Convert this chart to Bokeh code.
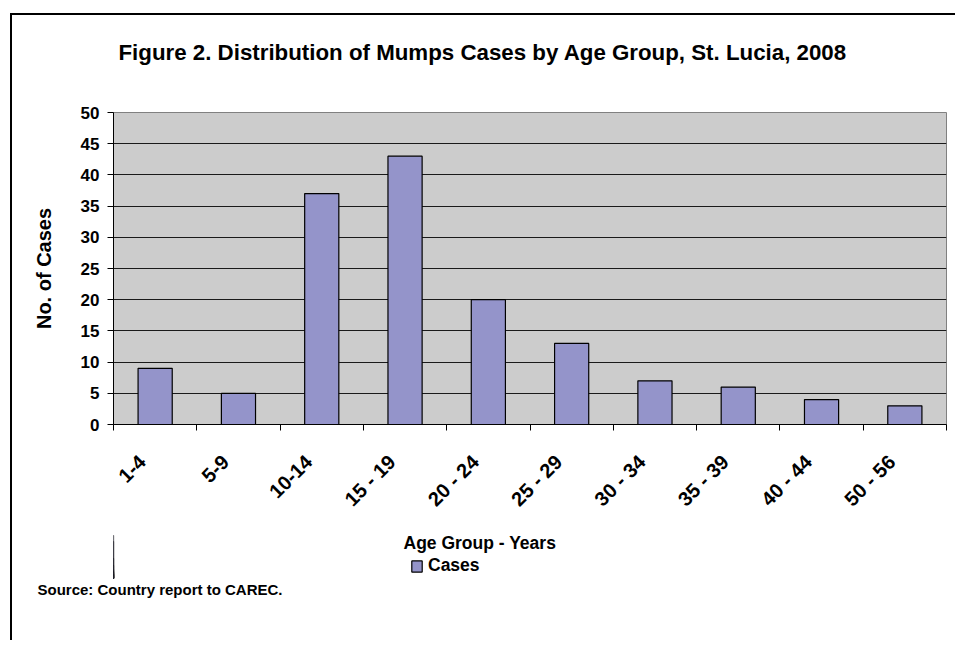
import math
from bokeh.plotting import figure
from bokeh.layouts import column
from bokeh.models import (Range1d, LinearAxis, FixedTicker, Label, Title,
                          Legend, LegendItem, ColumnDataSource)
from bokeh.embed import file_html
from bokeh.resources import INLINE

# ---- data ----
age_groups = ["1-4", "5-9", "10-14", "15 - 19", "20 - 24", "25 - 29",
              "30 - 34", "35 - 39", "40 - 44", "50 - 56"]
cases = [9, 5, 37, 43, 20, 13, 7, 6, 4, 3]
y_ticks = [0, 5, 10, 15, 20, 25, 30, 35, 40, 45, 50]

title_text = "Figure 2. Distribution of Mumps Cases by Age Group, St. Lucia, 2008"
x_label = "Age Group - Years"
y_label = "No. of Cases"
series_name = "Cases"
source_text = "Source: Country report to CAREC."

FONT = "Liberation Sans"
BAR = "#9494CA"
BG = "#CCCCCC"

n = len(age_groups)
centers = [i + 0.5 for i in range(n)]
bounds = list(range(n + 1))
label_shift = 0.15625  # rotated labels end slightly left of the bar centre
label_pos = [c - label_shift for c in centers]

src = ColumnDataSource(data=dict(x=centers, age=age_groups, cases=cases))

# ---------- top strip: chart title (frame aligned with main plot: 113..946) ----------
top = figure(width=945, height=91, x_range=Range1d(113, 946), y_range=Range1d(0, 91),
             output_backend="svg", toolbar_location=None,
             x_axis_location=None, y_axis_location=None, min_border=0,
             border_fill_alpha=0, background_fill_alpha=0, outline_line_color=None)
top.grid.visible = False
top.styles = {"box-shadow": "inset 2px 2px 0 0 black"}
top.add_layout(Label(x=118, y=52, text=title_text, text_align="left",
                     text_baseline="middle", text_font=FONT, text_font_style="bold",
                     text_font_size="22.3px", text_color="black"))

# ---------- main chart ----------
p = figure(frame_width=833, frame_height=312,
           x_range=Range1d(0, n), y_range=Range1d(0, 50),
           output_backend="svg", toolbar_location=None,
           x_axis_location=None, y_axis_location="left",
           min_border_left=103, min_border_right=9,
           min_border_top=8, min_border_bottom=104,
           background_fill_color=BG, border_fill_alpha=0)
p.outline_line_color = "#808080"
p.outline_line_width = 1
p.styles = {"box-shadow": "inset 2px 0 0 0 black"}

tick_axis = LinearAxis(ticker=FixedTicker(ticks=bounds),
                       major_tick_out=6, major_tick_in=0,
                       minor_tick_out=0, minor_tick_in=0,
                       major_label_text_alpha=0, major_label_text_font_size="1px",
                       major_label_standoff=0,
                       axis_line_color="black", major_tick_line_color="black")
p.add_layout(tick_axis, "below")

cat_axis = LinearAxis(ticker=FixedTicker(ticks=label_pos),
                      major_label_overrides={c: a for c, a in zip(label_pos, age_groups)},
                      major_tick_out=0, major_tick_in=0, minor_tick_out=0, minor_tick_in=0,
                      axis_line_color=None, major_tick_line_color=None,
                      major_label_orientation=math.pi / 4,
                      major_label_standoff=28,
                      major_label_text_font=FONT,
                      major_label_text_font_style="bold",
                      major_label_text_font_size="20px",
                      major_label_text_color="black")
p.add_layout(cat_axis, "below")

ya = p.yaxis[0]
ya.ticker = FixedTicker(ticks=y_ticks)
ya.major_tick_out = 6
ya.major_tick_in = 0
ya.minor_tick_out = 0
ya.minor_tick_in = 0
ya.axis_line_color = "black"
ya.major_tick_line_color = "black"
ya.major_label_standoff = 8
ya.major_label_text_font = FONT
ya.major_label_text_font_style = "bold"
ya.major_label_text_font_size = "17px"
ya.major_label_text_color = "black"
ya.axis_label = y_label
ya.axis_label_text_font = FONT
ya.axis_label_text_font_style = "bold"
ya.axis_label_text_font_size = "20px"
ya.axis_label_text_color = "black"
ya.axis_label_standoff = 23

p.xgrid.visible = False
p.ygrid.ticker = FixedTicker(ticks=y_ticks[1:-1])
p.ygrid.grid_line_color = "#1a1a1a"
p.ygrid.grid_line_width = 1

p.vbar(x="x", top="cases", width=0.41, source=src,
       fill_color=BAR, line_color="black", line_width=1.2)

# ---------- bottom strip: axis title, legend, source ----------
bot = figure(width=945, frame_height=50,
             x_range=Range1d(1113, 1946), y_range=Range1d(0, 50),
             output_backend="svg", toolbar_location=None,
             x_axis_location=None, y_axis_location=None,
             min_border_left=0, min_border_right=0, min_border_top=0, min_border_bottom=62,
             border_fill_alpha=0, background_fill_alpha=0, outline_line_color=None)
bot.grid.visible = False
bot.styles = {"box-shadow": "inset 2px 0 0 0 black"}
# legend key uses the same series styling (bars themselves lie outside this strip's view)
r_key = bot.vbar(x="x", top="cases", width=0.41, source=src,
                 fill_color=BAR, line_color="black", line_width=1.2)

bot.add_layout(Label(x=1403, y=36, text=x_label, text_align="left",
                     text_baseline="middle", text_font=FONT, text_font_style="bold",
                     text_font_size="17.5px", text_color="black"))

legend = Legend(items=[LegendItem(label=series_name, renderers=[r_key])],
                orientation="horizontal", location=(297, 2),
                border_line_color=None, background_fill_alpha=0,
                label_text_font=FONT, label_text_font_style="bold",
                label_text_font_size="17.5px", label_text_color="black",
                glyph_width=13, glyph_height=14,
                padding=4, margin=0, label_standoff=5)
bot.add_layout(legend)

st = Title(text=source_text, align="left", offset=-76, standoff=0,
           text_font=FONT, text_font_style="bold", text_font_size="15px",
           text_color="black")
bot.add_layout(st, "below")

root = column(top, p, bot, spacing=0,
              styles={"margin-left": "10px", "margin-top": "13px"})

open("out.html", "w").write(file_html(root, INLINE))
